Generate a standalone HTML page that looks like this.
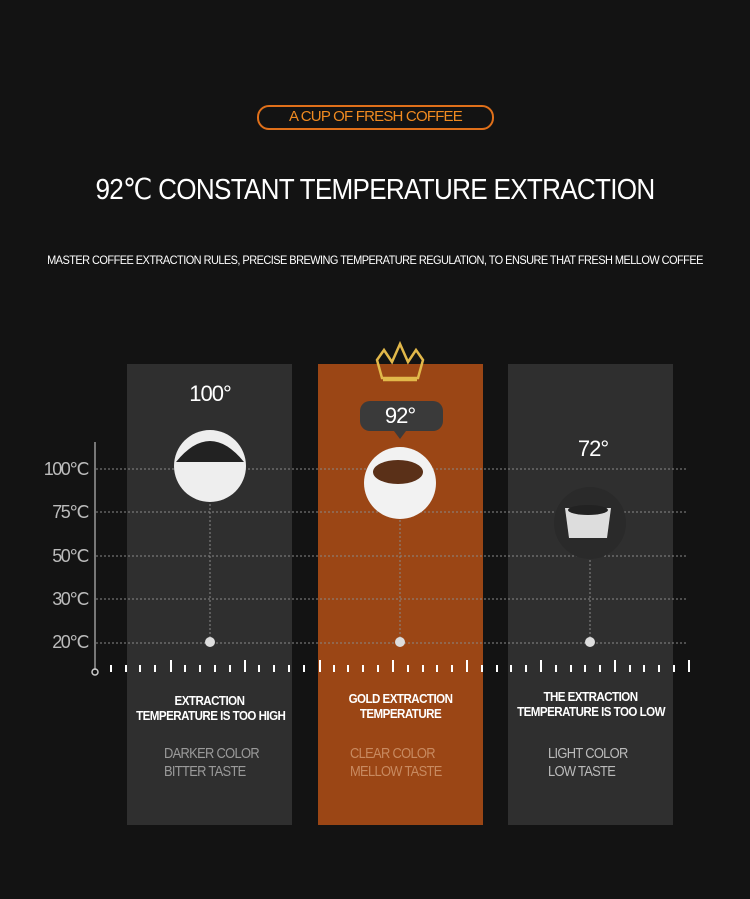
<!DOCTYPE html>
<html><head><style>
body{margin:0;width:750px;height:899px;background:#131313;position:relative;overflow:hidden;font-family:"Liberation Sans",sans-serif;color:#fff}
.a{position:absolute}
.c{text-align:center;white-space:nowrap}
.panel{position:absolute;top:364px;width:165px;height:461px;background:#2f2f2f}
.t{font-size:13px;font-weight:bold;line-height:15px;letter-spacing:-0.6px;transform:scaleX(0.89)}
.g{font-size:15px;line-height:18px;color:#9a9a9a;letter-spacing:-0.8px;transform:scaleX(0.86);transform-origin:left center}
.yl{position:absolute;left:30px;width:58px;text-align:right;font-size:18px;color:#bbb;letter-spacing:-1.5px}
</style></head><body>
<div class="a" style="left:257px;top:105px;width:233px;height:21px;border:2px solid #e0701a;border-radius:12px"></div>
<div class="a c" style="left:257px;top:108px;width:237px;font-size:15px;color:#f08a20;letter-spacing:-0.8px">A CUP OF FRESH COFFEE</div>
<div class="a c" style="left:0;top:172px;width:750px;font-size:29px;letter-spacing:-0.8px;transform:scaleX(0.9)">92℃ CONSTANT TEMPERATURE EXTRACTION</div>
<div class="a c" style="left:0;top:253px;width:750px;font-size:12px;letter-spacing:-0.6px;transform:scaleX(0.915)">MASTER COFFEE EXTRACTION RULES, PRECISE BREWING TEMPERATURE REGULATION, TO ENSURE THAT FRESH MELLOW COFFEE</div>
<div class="panel" style="left:127px"></div>
<div class="panel" style="left:318px;background:#9b4615"></div>
<div class="panel" style="left:508px"></div>
<svg class="a" style="left:0;top:0" width="750" height="899">
<g stroke="#888" stroke-dasharray="2,2" stroke-width="1">
<line x1="96" y1="469" x2="688" y2="469"/><line x1="96" y1="512" x2="688" y2="512"/><line x1="96" y1="556" x2="688" y2="556"/><line x1="96" y1="599" x2="688" y2="599"/><line x1="96" y1="643" x2="688" y2="643"/>
<line x1="210" y1="500" x2="210" y2="642"/><line x1="400" y1="520" x2="400" y2="642"/><line x1="590" y1="560" x2="590" y2="642"/>
</g>
<line x1="95" y1="442" x2="95" y2="670" stroke="#777" stroke-width="2"/>
<circle cx="95" cy="672" r="3" fill="none" stroke="#ccc" stroke-width="1.5"/>
<g fill="#ddd"><ellipse cx="210" cy="642" rx="5" ry="5"/><ellipse cx="400" cy="642" rx="5" ry="5"/><ellipse cx="590" cy="642" rx="5" ry="5"/></g>
<g stroke="#fff" stroke-width="2">
<path d="M111 665V672M126 665V672M140 665V672M155 665V672M171 660V672M185 665V672M200 665V672M215 665V672M230 665V672M245 660V672M259 665V672M274 665V672M289 665V672M304 665V672M320 660V672M334 665V672M348 665V672M363 665V672M378 665V672M393 660V672M408 665V672M423 665V672M437 665V672M452 665V672M467 660V672M482 665V672M497 665V672M511 665V672M526 665V672M541 660V672M556 665V672M571 665V672M585 665V672M600 665V672M615 660V672M630 665V672M644 665V672M659 665V672M674 665V672M689 660V672"/>
</g>
<circle cx="210" cy="466" r="36" fill="#eee"/><path d="M176 462Q210 420 244 462Z" fill="#222"/>
<circle cx="400" cy="483" r="36" fill="#f2f2f2"/><ellipse cx="398" cy="472" rx="25" ry="12" fill="#5a3018"/>
<circle cx="590" cy="523" r="36" fill="#2a2a2a"/><path d="M565 508h46l-4 30h-38z" fill="#ddd"/><ellipse cx="588" cy="510" rx="20" ry="5" fill="#222"/>
<rect x="360" y="401" width="83" height="30" rx="10" fill="#3a3a3a"/><path d="M394 431l6 8 6-8z" fill="#3a3a3a"/>
<path d="M377 360l7-10 8 12 8-18 8 18 8-12 7 10-5 18h-36z" fill="none" stroke="#e2b84a" stroke-width="2.5"/>
<line x1="383" y1="380" x2="417" y2="380" stroke="#e2b84a" stroke-width="2.5"/>
</svg>
<div class="yl" style="top:459px">100℃</div><div class="yl" style="top:502px">75℃</div><div class="yl" style="top:546px">50℃</div><div class="yl" style="top:589px">30℃</div><div class="yl" style="top:632px">20℃</div>
<div class="a c" style="left:160px;top:381px;width:100px;font-size:22px;letter-spacing:-1px">100°</div>
<div class="a c" style="left:350px;top:403px;width:100px;font-size:22px;letter-spacing:-1px">92°</div>
<div class="a c" style="left:543px;top:436px;width:100px;font-size:22px;letter-spacing:-1px">72°</div>
<div class="a c t" style="left:127px;top:693px;width:165px">EXTRACTION<br>TEMPERATURE IS TOO HIGH</div>
<div class="a c t" style="left:318px;top:691px;width:165px">GOLD EXTRACTION<br>TEMPERATURE</div>
<div class="a c t" style="left:508px;top:689px;width:165px">THE EXTRACTION<br>TEMPERATURE IS TOO LOW</div>
<div class="a g" style="left:164px;top:745px">DARKER COLOR<br>BITTER TASTE</div>
<div class="a g" style="left:350px;top:745px;color:#c88a60">CLEAR COLOR<br>MELLOW TASTE</div>
<div class="a g" style="left:548px;top:745px;color:#bbb">LIGHT COLOR<br>LOW TASTE</div>
</body></html>
